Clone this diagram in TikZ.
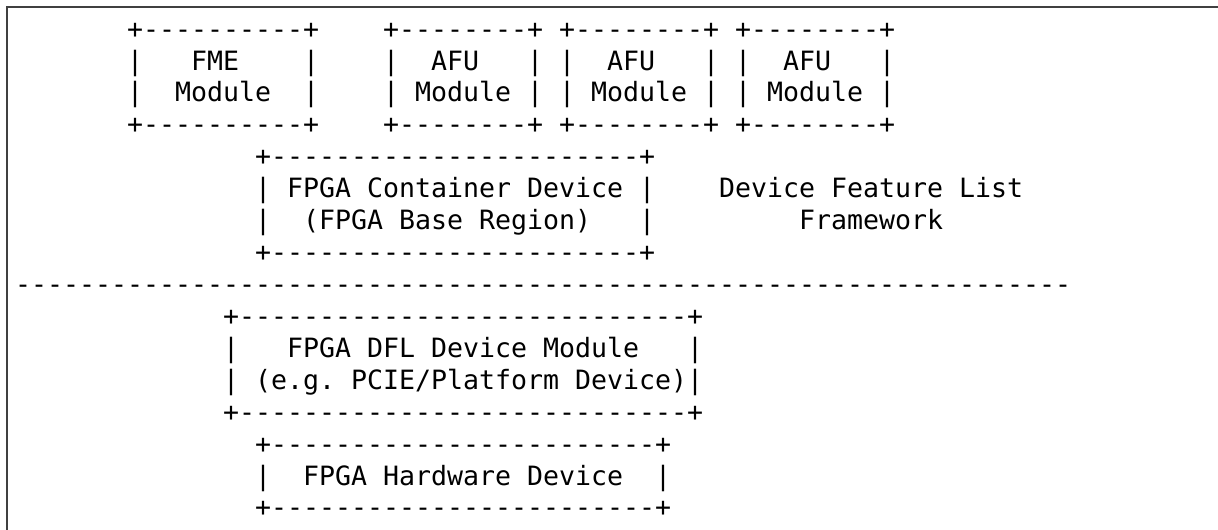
\documentclass[tikz,border=0pt]{standalone}
\usepackage{fontspec}
\setmonofont{DejaVu Sans Mono}
\begin{document}
\begin{tikzpicture}[x=1pt,y=-1pt,
  asc/.style={anchor=base west, inner sep=0pt, outer sep=0pt,
    font=\ttfamily\fontsize{26.58}{31.92}\selectfont},
  frame/.style={draw=black!75, line width=1.6pt}]
\useasboundingbox (0,0) rectangle (1218,530);
\coordinate (fr) at (1218,7);
\coordinate (fc) at (7,7);
\coordinate (fb) at (7,530);
\draw[frame] (fr) -- (fc) -- (fb);
% rows of the ASCII picture (column c starts at x = -17 + 16c)
\node[asc] (r1)  at (127,38.1)  {+----------+~~~~+--------+~+--------+~+--------+};
\node[asc] (r2)  at (127,70.0)  {|~~~FME~~~~|~~~~|~~AFU~~~|~|~~AFU~~~|~|~~AFU~~~|};
\node[asc] (r3)  at (127,101.9) {|~~Module~~|~~~~|~Module~|~|~Module~|~|~Module~|};
\node[asc] (r4)  at (127,133.9) {+----------+~~~~+--------+~+--------+~+--------+};
\node[asc] (r5)  at (255,165.8) {+-----------------------+};
\node[asc] (r6)  at (255,197.7) {|~FPGA~Container~Device~|~~~~Device~Feature~List};
\node[asc] (r7)  at (255,229.6) {|~~(FPGA~Base~Region)~~~|~~~~~~~~~Framework};
\node[asc] (r8)  at (255,261.5) {+-----------------------+};
\node[asc] (r9)  at (15,293.5)  {------------------------------------------------------------------};
\node[asc] (r10) at (223,325.4) {+----------------------------+};
\node[asc] (r11) at (223,357.3) {|~~~FPGA~DFL~Device~Module~~~|};
\node[asc] (r12) at (223,389.2) {|~(e.g.~PCIE/Platform~Device)|};
\node[asc] (r13) at (223,421.1) {+----------------------------+};
\node[asc] (r14) at (255,453.1) {+------------------------+};
\node[asc] (r15) at (255,485.0) {|~~FPGA~Hardware~Device~~|};
\node[asc] (r16) at (255,516.9) {+------------------------+};
\end{tikzpicture}
\end{document}
